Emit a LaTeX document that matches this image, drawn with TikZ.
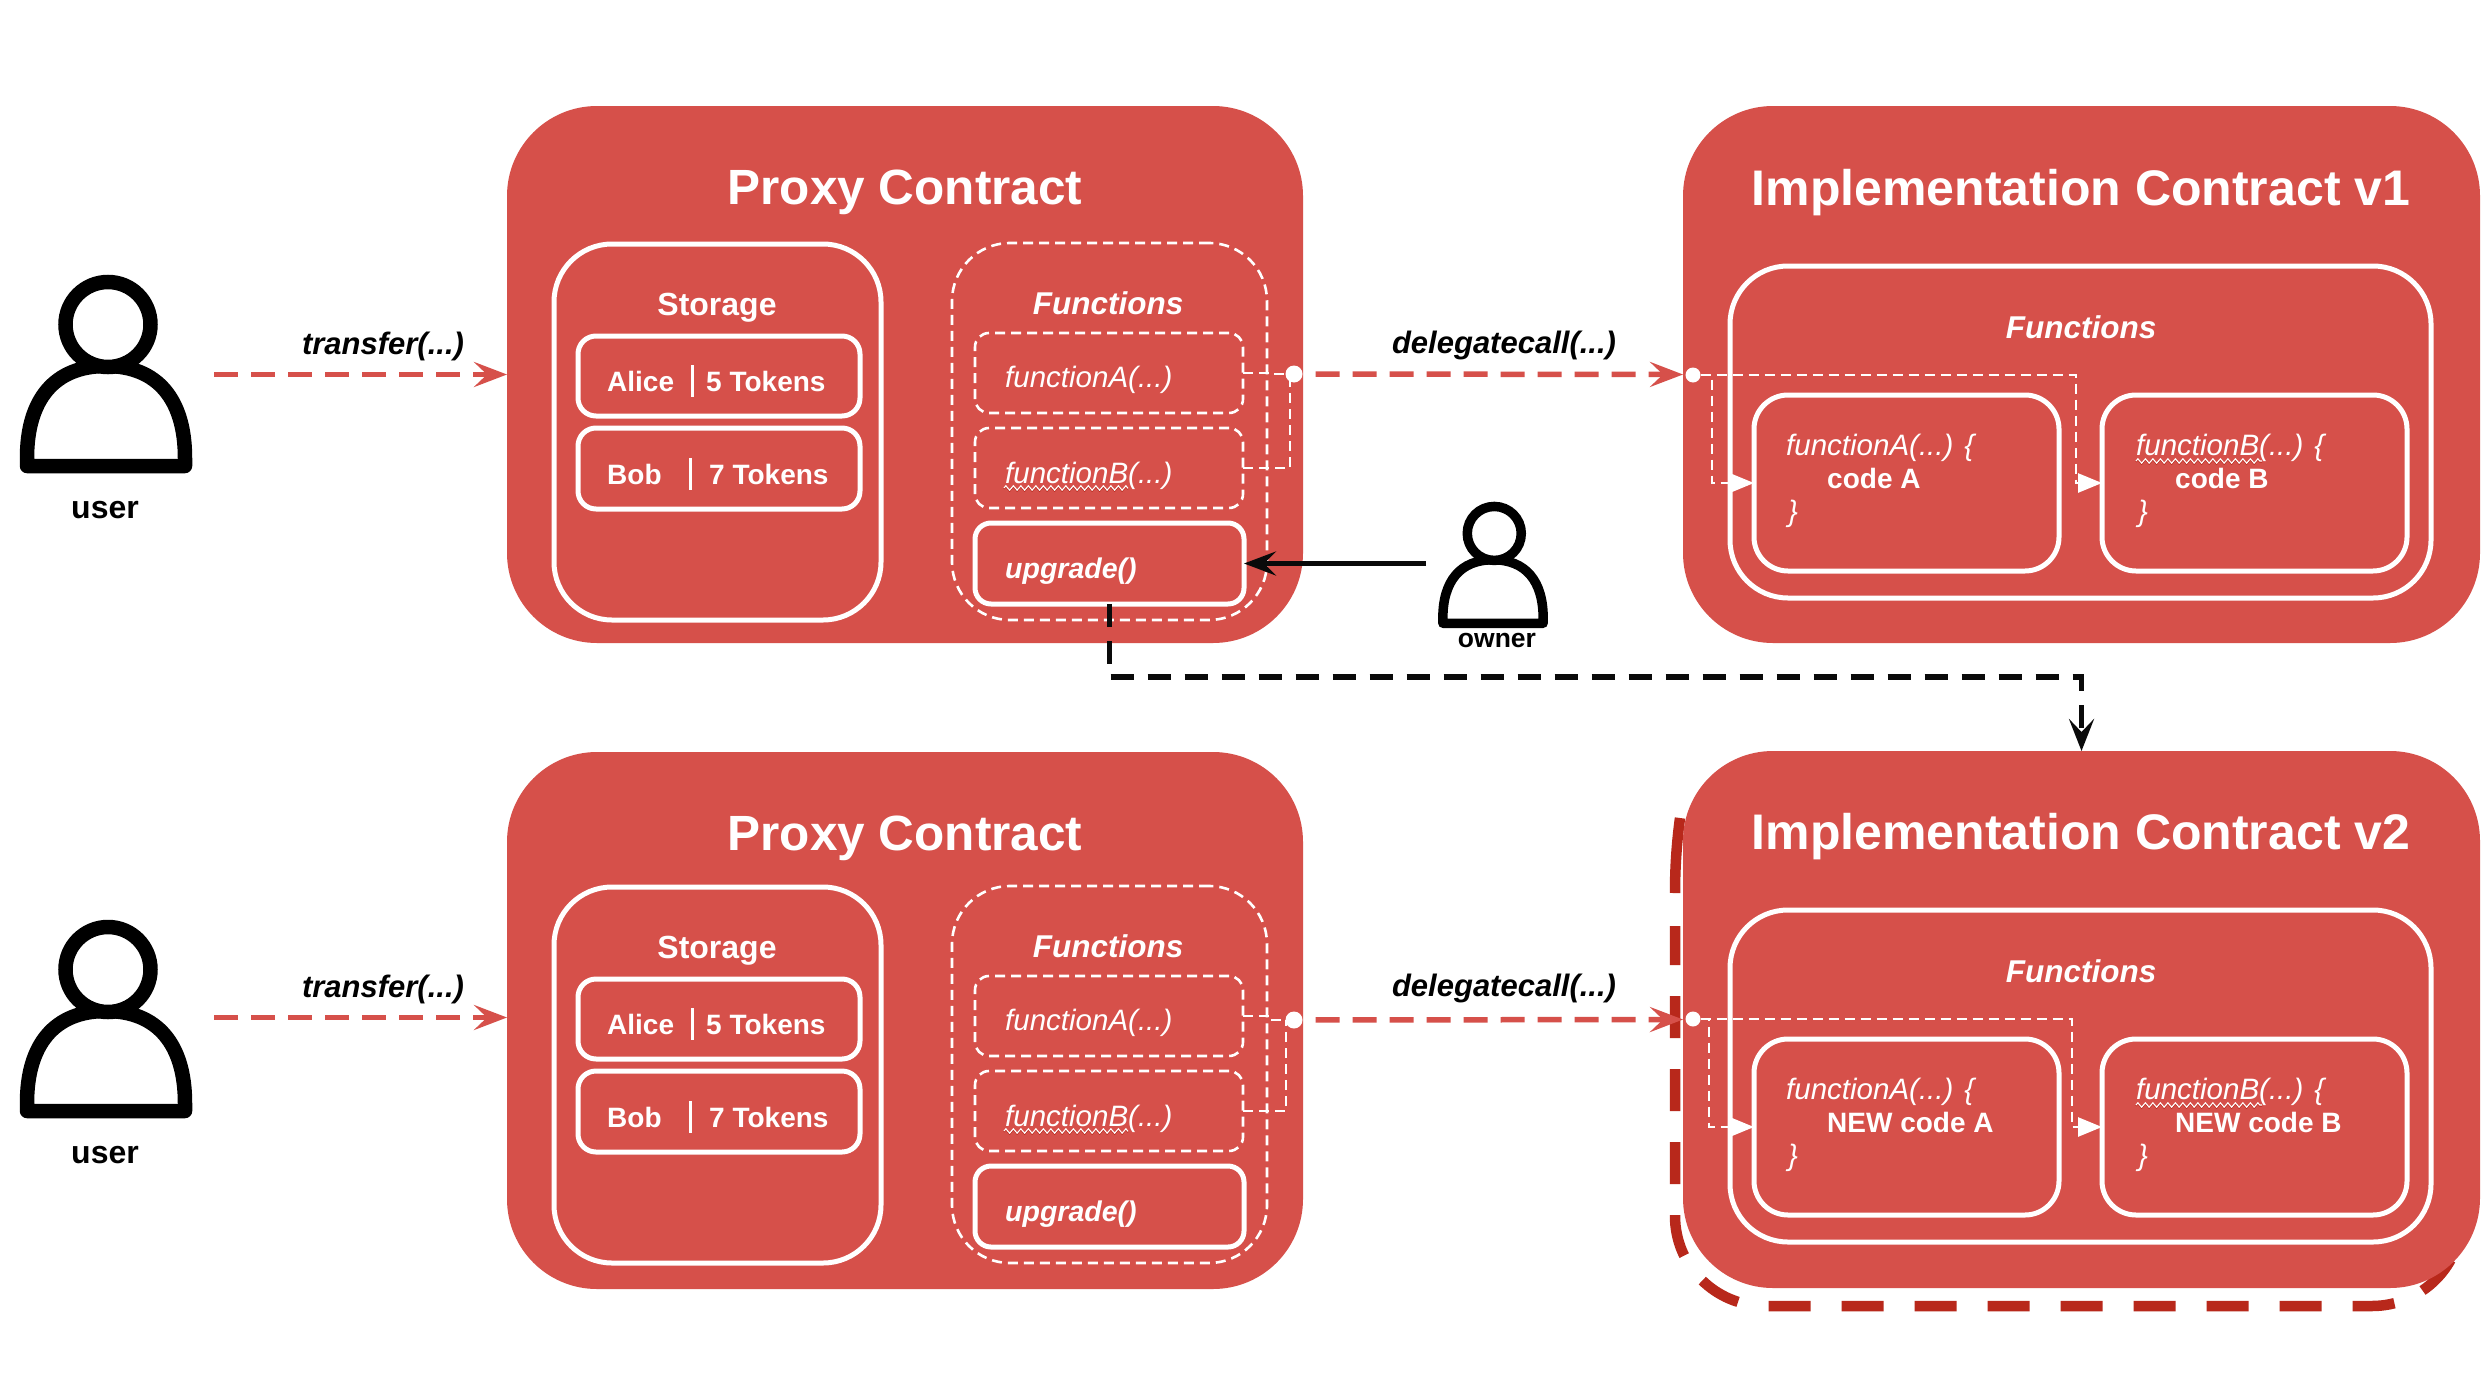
\documentclass[tikz,border=0pt]{standalone}
\usepackage{fontspec}
\setmainfont{Liberation Sans}
\usetikzlibrary{arrows.meta,decorations.pathmorphing}
\definecolor{boxred}{HTML}{D6504A}
\definecolor{darkred}{HTML}{B8281B}
\definecolor{inkblack}{HTML}{0A0A0A}
\newcommand{\fs}[1]{\fontsize{#1}{#1}\selectfont}
\tikzset{
  panel/.style={draw=none,fill=boxred,rounded corners=90pt,outer sep=0pt,inner sep=0pt},
  solidbox/.style={draw=white,line width=5pt,rounded corners=#1,outer sep=0pt,inner sep=0pt},
  dashbox/.style={draw=white,line width=2.6pt,dash pattern=on 10pt off 6pt,rounded corners=#1,outer sep=0pt,inner sep=0pt},
  title/.style={text=white,font=\fs{#1}\bfseries,inner sep=0pt,anchor=base},
  head/.style={text=white,font=\fs{32}\bfseries,inner sep=0pt,anchor=base},
  headit/.style={text=white,font=\fs{31.5}\bfseries\itshape,inner sep=0pt,anchor=base},
  rowtxt/.style={text=white,font=\fs{28}\bfseries,inner sep=0pt,anchor=base west},
  fntxt/.style={text=white,font=\fs{29.5}\itshape,inner sep=0pt,anchor=base west},
  upgtxt/.style={text=white,font=\fs{28.5}\bfseries\itshape,inner sep=0pt,anchor=base west},
  codetxt/.style={text=white,font=\fs{28}\bfseries,inner sep=0pt,anchor=base west},
  calltxt/.style={text=black,font=\fs{31}\bfseries\itshape,inner sep=0pt,anchor=base},
  whotxt/.style={text=black,font=\fs{#1}\bfseries,inner sep=0pt,anchor=base},
  dot/.style={circle,fill=white,draw=none,minimum size=#1,inner sep=0pt,outer sep=0pt},
  redcall/.style={draw=boxred,line width=5.5pt,dash pattern=on 24pt off 13pt,dash phase=24pt,
    -{Stealth[length=33pt,width=25pt,inset=13pt,fill=boxred]}},
  wirew/.style={draw=white,line width=2.6pt,dash pattern=on 10pt off 6pt},
  wirearrow/.style={wirew,-{Triangle[length=24pt,width=19pt,fill=white]}},
  blackarrow/.style={draw=inkblack,line width=5.5pt,-{Stealth[length=32pt,width=24pt,inset=12pt,fill=inkblack]}},
  blackdash/.style={draw=inkblack,line width=5.5pt,dash pattern=on 23pt off 14pt,
    -{Stealth[length=32pt,width=25pt,inset=13pt,fill=inkblack]}},
  iconline/.style={draw=black,fill=white,line join=round},
  halo/.style={draw=darkred,line width=10.5pt,line join=round,rounded corners=90pt},
  squig/.style={line width=1.1pt,decorate,decoration={zigzag,amplitude=2.2pt,segment length=7.5pt}}
}
% left, top, right, bottom
\newcommand{\rbox}[6]{%
  \pgfmathsetmacro\rbCx{((#3)+(#5))/2}\pgfmathsetmacro\rbCy{((#4)+(#6))/2}%
  \pgfmathsetmacro\rbW{(#5)-(#3)}\pgfmathsetmacro\rbH{(#6)-(#4)}%
  \node[#1,minimum width=\rbW pt,minimum height=\rbH pt] (#2) at (\rbCx,\rbCy) {};}
\newcommand{\person}[5]{% name, centre x, top y, scale, line width
  \begin{scope}[shift={(#2,#3)},scale=#4]
    \draw[iconline,line width=#5pt] (-79,183) .. controls (-79,125) and (-52,91) .. (0,91)
       .. controls (52,91) and (79,125) .. (79,183) -- (79,191) -- (-79,191) -- cycle;
    \node[circle,draw=black,fill=white,line width=#5pt,minimum size=#4*85pt,inner sep=0pt,outer sep=0pt] (#1) at (2,49.5) {};
  \end{scope}}
\newcommand{\squiggle}[3]{% x1, x2, y
  \draw[squig,draw=darkred] (#1,#3+1) -- (#2,#3+1);
  \draw[squig,draw=white] (#1,#3) -- (#2,#3);}
% suffix, content offset, panel offset, x of wire from functionB, local y of the dot
\newcommand{\proxyblock}[5]{%
  \rbox{panel}{proxy#1}{507}{106+#3}{1303}{643+#3}
  \node[title=49.5] (proxytitle#1) at (905,204+#3) {Proxy Contract};
 \begin{scope}[yshift=-#2pt]
  \rbox{solidbox=58pt}{storage#1}{554}{244}{881}{620}
  \node[head] (storagetitle#1) at (717,315) {Storage};
  \rbox{solidbox=18pt}{alice#1}{578}{336}{860}{416}
  \rbox{solidbox=18pt}{bob#1}{578}{428}{860}{509}
  \node[rowtxt] (alicename#1) at (607,391.5) {Alice};
  \node[rowtxt] (alicetok#1) at (706,391.5) {5 Tokens};
  \node[rowtxt] (bobname#1) at (607,484) {Bob};
  \node[rowtxt] (bobtok#1) at (709,484) {7 Tokens};
  \draw[white,line width=3pt] (692,365) -- (692,397);
  \draw[white,line width=3pt] (690,458) -- (690,490);
  \rbox{dashbox=58pt}{fnarea#1}{952}{243}{1267}{620}
  \node[headit] (fntitle#1) at (1108,314) {Functions};
  \rbox{dashbox=14pt}{fa#1}{975}{333}{1243}{413}
  \rbox{dashbox=14pt}{fb#1}{975}{428}{1243}{508}
  \rbox{solidbox=16pt}{upg#1}{975}{523}{1244}{604}
  \node[fntxt] (fatxt#1) at (1005,387) {functionA(...)};
  \node[fntxt] (fbtxt#1) at (1005,483) {functionB(...)};
  \squiggle{1004}{1128}{488}
  \node[upgtxt] (upgtxt#1) at (1005,578) {upgrade()};
  \node[dot=17pt] (dotp#1) at (1294,#5) {};
  \coordinate (fbturn#1) at (#4,468);
  \coordinate (fajog#1) at (1272,373);
  \draw[wirew] (fa#1.east) -- (fajog#1) -- (fajog#1 |- dotp#1) -- (dotp#1);
  \draw[wirew] (fb#1.east) -- (fbturn#1) -- (fbturn#1 |- dotp#1);
  \node[calltxt] (transfer#1) at (383,354) {transfer(...)};
  \node[calltxt] (delegate#1) at (1504,353.5) {delegatecall(...)};
  \coordinate (userout#1) at (201,374.5);
  \draw[redcall] (userout#1) -- (userout#1 -| proxy#1.west);
 \end{scope}}
% suffix, content offset, panel offset, version, code prefix, x of wire to A, x of wire to B
\newcommand{\implblock}[7]{%
  \rbox{panel}{impl#1}{1683}{106+#3}{2480}{643+#3}
 \begin{scope}[yshift=-#2pt]
  \node[title=50] (impltitle#1) at (2081,205) {Implementation Contract v#4};
  \rbox{solidbox=58pt}{implfn#1}{1730}{266}{2431}{598}
  \node[headit] (implfntitle#1) at (2081,338) {Functions};
  \rbox{solidbox=34pt}{codea#1}{1754}{395}{2059}{571}
  \rbox{solidbox=34pt}{codeb#1}{2102}{395}{2407}{571}
  \node[fntxt] (catxt#1) at (1786,455) {functionA(...) \{};
  \node[codetxt] (cacode#1) at (1827,488.5) {#5code A};
  \node[fntxt] (caend#1) at (1788,521) {\}};
  \node[fntxt] (cbtxt#1) at (2136,455) {functionB(...) \{};
  \node[codetxt] (cbcode#1) at (2175,488.5) {#5code B};
  \node[fntxt] (cbend#1) at (2138,521) {\}};
  \squiggle{2136}{2262}{461}
  \node[dot=15pt] (doti#1) at (1693,375) {};
  \coordinate (turna#1) at (#6,375);
  \coordinate (turnb#1) at (#7,375);
  \draw[wirearrow] (doti#1) -- (turna#1) -- (turna#1 |- codea#1.west) -- (codea#1.west);
  \draw[wirearrow] (doti#1) -- (turnb#1) -- (turnb#1 |- codeb#1.west) -- (codeb#1.west);
 \end{scope}}
\begin{document}
\begin{tikzpicture}[x=1pt,y=-1pt]
  \useasboundingbox (0,0) rectangle (2490,1400);
  \fill[white] (0,0) rectangle (2490,1400);
  % dark dashed outline behind the v2 panel
  \coordinate (haloa) at (1680,818);
  \coordinate (halob) at (1675,893);
  \coordinate (haloc) at (1675,926);
  \draw[darkred,line width=10.5pt] (haloa) .. controls (1677,840) and (1675,865) .. (halob);
  \draw[halo,dash pattern=on 42pt off 31pt,dash phase=3pt] (haloc) -- (1675,1306) -- (2462,1306) -- (2462,1180);
  \proxyblock{P}{0}{0}{1290}{374}
  \implblock{Ia}{0}{0}{1}{}{1712}{2076}
  \proxyblock{Q}{643}{646}{1286}{377}
  \implblock{Ib}{644}{645}{2}{NEW }{1709}{2072}
  % people
  \person{userP}{106}{275}{1}{14.5}
  \node[whotxt=32] (userlabelP) at (105,518) {user};
  \person{userQ}{106}{920}{1}{14.5}
  \node[whotxt=32] (userlabelQ) at (105,1163) {user};
  % red calls
  \draw[redcall] (dotpP.east) -- (implIa.west);
  \draw[redcall] (dotpQ.east) -- (implIb.west);
  % owner
  \person{owner}{1493}{502}{0.635}{9.5}
  \node[whotxt=26.5] (ownerlabel) at (1497,647) {owner};
  \coordinate (ownerout) at (1426,563.5);
  \draw[blackarrow] (ownerout) -- (upgP.east);
  % upgrade
  \coordinate (bendup) at (1109.5,677);
  \draw[blackdash] (upgP.south) -- (bendup) -- (bendup -| implIb.north) -- (implIb.north);
\end{tikzpicture}
\end{document}
